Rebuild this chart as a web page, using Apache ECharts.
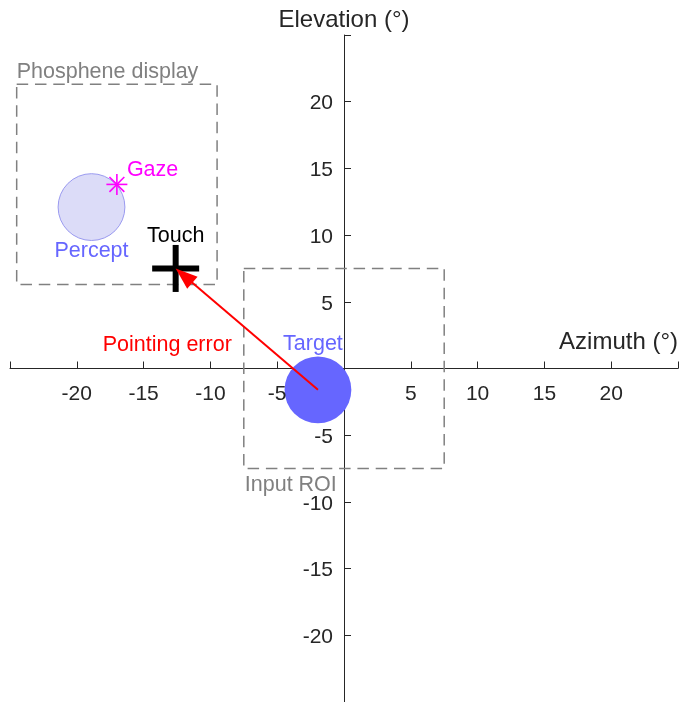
<!DOCTYPE html>
<html>
<head>
<meta charset="utf-8">
<script src="https://cdn.jsdelivr.net/npm/echarts@6/dist/echarts.min.js"></script>
<style>
  html, body { margin: 0; padding: 0; background: #ffffff; }
  #chart { width: 680px; height: 702px; }
</style>
</head>
<body>
<div id="chart"></div>
<script>
// Axis extent and ticks (degrees of visual angle)
const axisMin = -25;
const axisMax = 25;
const tickStep = 5;
const azimuthTickLabels = [-20, -15, -10, -5, 5, 10, 15, 20];
const elevationTickLabels = [-20, -15, -10, -5, 5, 10, 15, 20];

// Scene geometry in degrees: [azimuth, elevation]
const targetPos = [-1.95, -1.6];
const targetRadius = 2.5;
const perceptPos = [-18.9, 12.1];
const perceptRadius = 2.5;
const gazePos = [-17.0, 13.8];
const touchPos = [-12.6, 7.5];
const roiCenter = [0, 0];
const roiHalfSize = 7.5;
const displayCenter = [-17.0, 13.8];
const displayHalfSize = 7.5;

const FONT = "'Liberation Sans', Arial, Helvetica, sans-serif";
const AXIS_COLOR = '#262626';
const GRAY = '#808080';
const BLUE = '#6666FF';

function textEl(text, x, y, color, align, vAlign, size) {
  return {
    type: 'text', x: x, y: y, z2: 10,
    style: { text: text, fill: color, fontSize: size || 21.5, fontFamily: FONT,
             align: align, verticalAlign: vAlign }
  };
}

// Tick labels sit next to the axes that cross at the origin
function azimuthLabelRenderer(params, api) {
  const v = api.value(0);
  const p = api.coord([v, 0]);
  return textEl(String(v), p[0], p[1] + 26, AXIS_COLOR, 'center', 'middle', 21);
}
function elevationLabelRenderer(params, api) {
  const v = api.value(0);
  const p = api.coord([0, v]);
  return textEl(String(v), p[0] - 11, p[1] + 2, AXIS_COLOR, 'right', 'middle', 21);
}

// Dashed square region with a caption
function regionRenderer(caption, captionAbove) {
  return function (params, api) {
    const cx = api.value(0), cy = api.value(1), h = api.value(2);
    const tl = api.coord([cx - h, cy + h]);
    const br = api.coord([cx + h, cy - h]);
    const cap = captionAbove
      ? textEl(caption, tl[0], tl[1] - 1, GRAY, 'left', 'bottom')
      : textEl(caption, tl[0] + 1, br[1] + 17, GRAY, 'left', 'middle');
    return {
      type: 'group',
      children: [
        { type: 'rect',
          shape: { x: tl[0], y: tl[1], width: br[0] - tl[0], height: br[1] - tl[1] },
          style: { fill: 'none', stroke: GRAY, lineWidth: 1.5, lineDash: [11.5, 6.8] } },
        cap
      ]
    };
  };
}

// Filled disc with a caption
function discRenderer(fill, stroke, caption, dx, dy) {
  return function (params, api) {
    const c = api.coord([api.value(0), api.value(1)]);
    const r = api.size([api.value(2), 0])[0];
    return {
      type: 'group',
      children: [
        { type: 'circle', shape: { cx: c[0], cy: c[1], r: r },
          style: { fill: fill, stroke: stroke, lineWidth: stroke ? 1 : 0 } },
        textEl(caption, c[0] + dx, c[1] + dy, BLUE, 'center', 'middle')
      ]
    };
  };
}

function gazeRenderer(params, api) {
  const c = api.coord([api.value(0), api.value(1)]);
  const a = 10.5, d = a * Math.SQRT1_2;
  const st = { stroke: '#FF00FF', lineWidth: 1.6 };
  const seg = (x1, y1, x2, y2) => ({ type: 'line', shape: { x1: x1, y1: y1, x2: x2, y2: y2 }, style: st });
  return {
    type: 'group',
    children: [
      seg(c[0] - a, c[1], c[0] + a, c[1]),
      seg(c[0], c[1] - a, c[0], c[1] + a),
      seg(c[0] - d, c[1] - d, c[0] + d, c[1] + d),
      seg(c[0] - d, c[1] + d, c[0] + d, c[1] - d),
      textEl('Gaze', c[0] + 10, c[1] - 14, '#FF00FF', 'left', 'middle')
    ]
  };
}

function touchRenderer(params, api) {
  const c = api.coord([api.value(0), api.value(1)]);
  const a = 23.5;
  const st = { stroke: '#000000', lineWidth: 6 };
  return {
    type: 'group',
    children: [
      { type: 'line', shape: { x1: c[0] - a, y1: c[1], x2: c[0] + a, y2: c[1] }, style: st },
      { type: 'line', shape: { x1: c[0], y1: c[1] - a, x2: c[0], y2: c[1] + a }, style: st },
      textEl('Touch', c[0], c[1] - 32.5, '#000000', 'center', 'middle')
    ]
  };
}

// Pointing error: arrow from target centre to touch point
function arrowRenderer(params, api) {
  const s = api.coord([api.value(0), api.value(1)]);
  const e = api.coord([api.value(2), api.value(3)]);
  const dx = e[0] - s[0], dy = e[1] - s[1];
  const len = Math.hypot(dx, dy);
  const ux = dx / len, uy = dy / len;
  const hl = 22, hw = 8;
  const bx = e[0] - ux * hl, by = e[1] - uy * hl;
  const mx = (s[0] + e[0]) / 2, my = (s[1] + e[1]) / 2;
  return {
    type: 'group',
    children: [
      { type: 'line', shape: { x1: s[0], y1: s[1], x2: bx + ux * 2, y2: by + uy * 2 },
        style: { stroke: '#FF0000', lineWidth: 2 } },
      { type: 'polygon',
        shape: { points: [[e[0], e[1]], [bx - uy * hw, by + ux * hw], [bx + uy * hw, by - ux * hw]] },
        style: { fill: '#FF0000' } },
      textEl('Pointing error', mx - 15, my + 16, '#FF0000', 'right', 'middle')
    ]
  };
}

const axisCommon = {
  type: 'value',
  min: axisMin,
  max: axisMax,
  interval: tickStep,
  axisLine: { show: true, onZero: true, lineStyle: { color: AXIS_COLOR, width: 1 } },
  axisTick: { show: true, inside: true, length: 7, lineStyle: { color: AXIS_COLOR, width: 1 } },
  axisLabel: { show: false },
  splitLine: { show: false },
  nameLocation: 'end'
};

const option = {
  animation: false,
  backgroundColor: '#ffffff',
  grid: { left: 10, right: 2, top: 35, bottom: 0, containLabel: false, outerBoundsMode: 'none' },
  xAxis: Object.assign({}, axisCommon, {
    name: 'Azimuth (°)',
    nameGap: 0,
    nameTextStyle: { fontSize: 24, color: AXIS_COLOR, fontFamily: FONT,
                     align: 'right', verticalAlign: 'bottom', padding: [0, 0, 14, 0] }
  }),
  yAxis: Object.assign({}, axisCommon, {
    name: 'Elevation (°)',
    nameGap: 3,
    nameTextStyle: { fontSize: 24, color: AXIS_COLOR, fontFamily: FONT }
  }),
  series: [
    { type: 'custom', renderItem: azimuthLabelRenderer,
      data: azimuthTickLabels.map(v => [v]), silent: true },
    { type: 'custom', renderItem: elevationLabelRenderer,
      data: elevationTickLabels.map(v => [v]), silent: true },
    { type: 'custom', renderItem: regionRenderer('Phosphene display', true),
      data: [[displayCenter[0], displayCenter[1], displayHalfSize]], silent: true },
    { type: 'custom', renderItem: regionRenderer('Input ROI', false),
      data: [[roiCenter[0], roiCenter[1], roiHalfSize]], silent: true },
    { type: 'custom', renderItem: discRenderer('#DCDCF8', '#9A9AF0', 'Percept', 0, 43.5),
      data: [[perceptPos[0], perceptPos[1], perceptRadius]], silent: true },
    { type: 'custom', renderItem: gazeRenderer,
      data: [[gazePos[0], gazePos[1]]], silent: true },
    { type: 'custom', renderItem: discRenderer(BLUE, null, 'Target', -5, -45.5),
      data: [[targetPos[0], targetPos[1], targetRadius]], silent: true },
    { type: 'custom', renderItem: touchRenderer,
      data: [[touchPos[0], touchPos[1]]], silent: true },
    { type: 'custom', renderItem: arrowRenderer,
      data: [[targetPos[0], targetPos[1], touchPos[0], touchPos[1]]], silent: true }
  ]
};

const chart = echarts.init(document.getElementById('chart'), null, { renderer: 'canvas' });
chart.setOption(option);
</script>
</body>
</html>
